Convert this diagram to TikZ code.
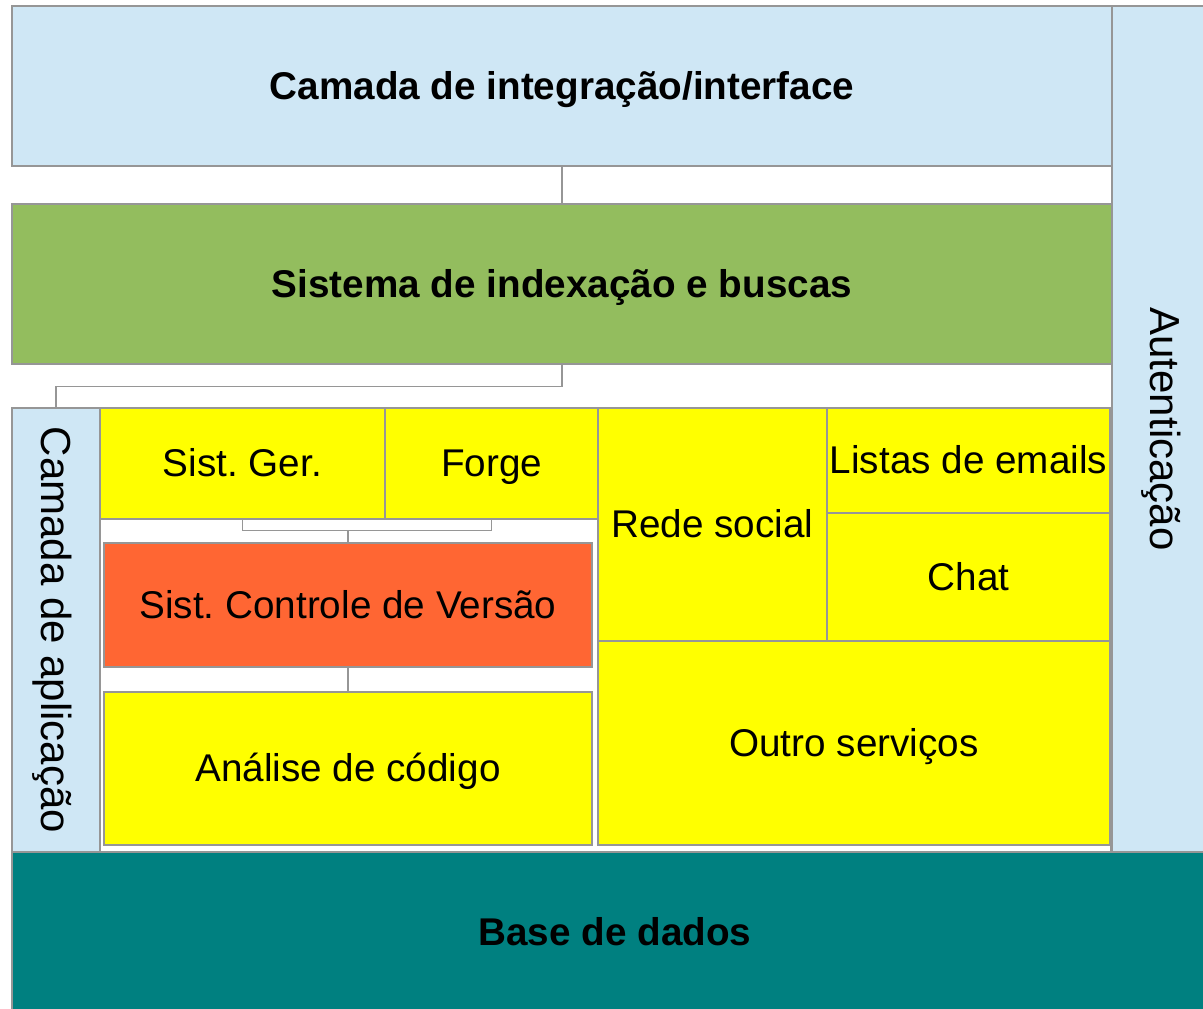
\documentclass[tikz,border=0pt]{standalone}
\usepackage{fontspec}
\setmainfont{Liberation Sans}
\usepackage{tikz}
\frenchspacing

\definecolor{azulclaro}{RGB}{207,231,245}
\definecolor{verdebusca}{RGB}{147,189,94}
\definecolor{amarelo}{RGB}{255,255,0}
\definecolor{laranja}{RGB}{255,102,51}
\definecolor{verdeagua}{RGB}{0,128,128}
\definecolor{borda}{RGB}{150,150,150}

\tikzset{
  caixa/.style={draw=borda, line width=1.1pt, rectangle, inner sep=0pt,
    text height=26.2pt, text depth=6.15pt,
    font=\fontsize{29}{34}\selectfont},
  titulo/.style={caixa, font=\fontsize{29}{34}\selectfont\bfseries},
  vertical/.style={caixa, rotate=-90, text height=28.5pt, text depth=6.7pt,
    font=\fontsize{31.5}{37}\selectfont},
  ligacao/.style={draw=borda, line width=1.1pt},
}

\begin{document}
\begin{tikzpicture}[x=0.75pt,y=0.75pt,yscale=-1,xscale=1]
\useasboundingbox (0,0) rectangle (1203,1008);
\clip (0,0) rectangle (1203,1008);

%Shape: camadas de topo
\node [titulo, fill=azulclaro, minimum width=1100*0.75pt, minimum height=160*0.75pt] (integracao) at (562,86) {Camada de integração/interface};
\node [titulo, fill=verdebusca, minimum width=1100*0.75pt, minimum height=160*0.75pt] (busca) at (562,284) {Sistema de indexação e buscas};

%Shape: autenticacao (texto na vertical)
\node [vertical, fill=azulclaro, minimum width=846*0.75pt, minimum height=106*0.75pt] (autenticacao) at (1165,429) {Autenticação};

%Shape: camada de aplicacao
\node [vertical, fill=azulclaro, minimum width=444*0.75pt, minimum height=88*0.75pt] (aplicacao) at (56,630) {Camada de aplicação};
\node [caixa, fill=white, minimum width=1011*0.75pt, minimum height=444*0.75pt] (servicos) at (605.5,630) {};

%Shape: blocos da esquerda
\node [caixa, fill=amarelo, minimum width=285*0.75pt, minimum height=111*0.75pt] (sistger) at (242.5,463.5) {Sist. Ger.};
\node [caixa, fill=amarelo, minimum width=213*0.75pt, minimum height=111*0.75pt] (forge) at (491.5,463.5) {Forge};
\node [caixa, fill=laranja, minimum width=488*0.75pt, minimum height=124*0.75pt] (versao) at (348,605) {Sist. Controle de Versão};
\node [caixa, fill=amarelo, minimum width=488*0.75pt, minimum height=153*0.75pt] (analise) at (348,768.5) {Análise de código};

%Shape: blocos da direita
\node [caixa, fill=amarelo, minimum width=229*0.75pt, minimum height=233*0.75pt] (rede) at (712.5,524.5) {Rede social};
\node [caixa, fill=amarelo, minimum width=283*0.75pt, minimum height=105*0.75pt] (listas) at (968.5,460.5) {Listas de emails};
\node [caixa, fill=amarelo, minimum width=283*0.75pt, minimum height=128*0.75pt] (chat) at (968.5,577) {Chat};
\node [caixa, fill=amarelo, minimum width=512*0.75pt, minimum height=204*0.75pt] (outros) at (854,743) {Outro serviços};

%Shape: base de dados
\node [titulo, fill=verdeagua, minimum width=1206*0.75pt, minimum height=160*0.75pt] (base) at (615,932) {Base de dados};

%Straight Lines
\draw [ligacao] (integracao.south) -- (busca.north);
\draw [ligacao] (busca.south) -- ++(0,22) -| (aplicacao.west);
\draw [ligacao] (sistger.south) -- ++(0,11) coordinate (juncao) -| (forge.south);
\draw [ligacao] (versao.north) -- (versao.north |- juncao);
\draw [ligacao] (versao.south) -- (analise.north);

\end{tikzpicture}
\end{document}
